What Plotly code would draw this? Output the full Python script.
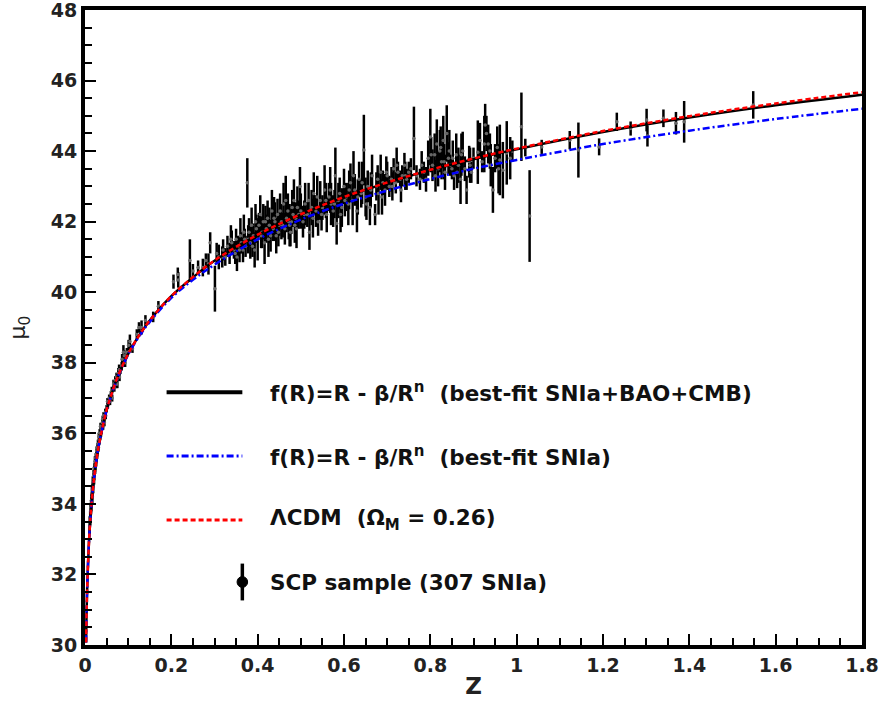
import plotly.graph_objects as go

# ---------------- data ----------------
# model curves
curve_z = [0.0025, 0.005, 0.01, 0.015, 0.02, 0.03, 0.04, 0.05, 0.06, 0.075, 0.1, 0.125,
           0.15, 0.2, 0.25, 0.3, 0.4, 0.5, 0.6, 0.7, 0.8, 0.9, 1.0, 1.2, 1.4, 1.6, 1.8]
lcdm_mu = [30.07, 31.58, 33.10, 33.98, 34.62, 35.52, 36.14, 36.66, 37.05, 37.58, 38.25, 38.77,
           39.20, 39.89, 40.43, 40.90, 41.63, 42.21, 42.70, 43.11, 43.47, 43.79, 44.07, 44.57,
           44.99, 45.35, 45.67]
fr_joint_mu = [30.07, 31.58, 33.10, 33.98, 34.62, 35.52, 36.14, 36.66, 37.05, 37.58, 38.25, 38.77,
               39.20, 39.89, 40.42, 40.89, 41.62, 42.20, 42.69, 43.10, 43.46, 43.77, 44.05, 44.54,
               44.95, 45.30, 45.60]
fr_snia_mu = [30.07, 31.58, 33.10, 33.98, 34.62, 35.52, 36.13, 36.65, 37.04, 37.56, 38.23, 38.74,
              39.16, 39.84, 40.35, 40.78, 41.50, 42.06, 42.51, 42.88, 43.21, 43.50, 43.75, 44.20,
              44.58, 44.91, 45.20]

# SCP SNIa sample
sn_z = [0.011, 0.013, 0.014, 0.015, 0.016, 0.017, 0.018, 0.019, 0.020, 0.021, 0.022, 0.023,
        0.024, 0.025, 0.026, 0.027, 0.028, 0.029, 0.030, 0.031, 0.032, 0.033, 0.034, 0.035,
        0.036, 0.038, 0.040, 0.042, 0.043, 0.045, 0.047, 0.050, 0.053, 0.056, 0.060, 0.063,
        0.066, 0.070, 0.073, 0.075, 0.077, 0.080, 0.082, 0.086, 0.089, 0.093, 0.097, 0.101,
        0.104, 0.110, 0.120, 0.125, 0.131, 0.140, 0.158, 0.170,
        0.205, 0.216, 0.215, 0.243, 0.250, 0.262, 0.273, 0.280, 0.286, 0.290, 0.301, 0.305, 0.310,
        0.320, 0.325, 0.330, 0.335, 0.340, 0.345, 0.350, 0.352, 0.355, 0.360, 0.362, 0.366,
        0.370, 0.372, 0.376, 0.380, 0.383, 0.386, 0.390, 0.393, 0.397, 0.400, 0.403, 0.406,
        0.410, 0.413, 0.416, 0.420, 0.423, 0.427, 0.430, 0.433, 0.436, 0.440, 0.443, 0.446,
        0.450, 0.455, 0.460, 0.463, 0.467, 0.470, 0.474, 0.478, 0.480, 0.484, 0.488, 0.490,
        0.495, 0.498, 0.500,
        0.505, 0.510, 0.515, 0.520, 0.525, 0.530, 0.535, 0.540, 0.545, 0.550, 0.555, 0.560,
        0.565, 0.570, 0.575, 0.580, 0.583, 0.587, 0.590, 0.595, 0.600, 0.605, 0.610, 0.615,
        0.620, 0.625, 0.630, 0.635, 0.640, 0.646, 0.650, 0.655, 0.660, 0.665, 0.672, 0.675,
        0.680, 0.685, 0.690, 0.695, 0.700, 0.705, 0.710, 0.715, 0.720, 0.725, 0.730, 0.735,
        0.740, 0.745, 0.750,
        0.755, 0.762, 0.768, 0.776, 0.780, 0.785, 0.790, 0.795, 0.800, 0.805, 0.810, 0.815,
        0.818, 0.822, 0.826, 0.830, 0.834, 0.838, 0.842, 0.846, 0.850, 0.855, 0.860, 0.865,
        0.870, 0.875, 0.880, 0.884, 0.890, 0.895, 0.900, 0.910, 0.915, 0.920, 0.927, 0.930,
        0.934, 0.940, 0.945, 0.950, 0.955, 0.961, 0.968, 0.977, 0.985, 0.990, 1.011, 1.020,
        1.030,
        1.058, 1.123, 1.143, 1.191, 1.232, 1.264, 1.301, 1.303, 1.340, 1.369, 1.388, 1.548,
        0.318, 0.338, 0.348, 0.358, 0.368, 0.378, 0.388, 0.395, 0.408, 0.418, 0.425, 0.438,
        0.448, 0.452, 0.458, 0.465, 0.472, 0.476, 0.482, 0.486, 0.492, 0.508, 0.518, 0.528,
        0.538, 0.548, 0.558, 0.568, 0.578, 0.592, 0.602, 0.612, 0.622, 0.632, 0.642, 0.652,
        0.662, 0.678, 0.688, 0.698, 0.712, 0.722, 0.732, 0.742, 0.802, 0.812, 0.824, 0.832,
        0.844, 0.852, 0.862, 0.872, 0.892, 0.925, 0.938, 0.958,
        0.012, 0.0145, 0.0175, 0.0205, 0.0235, 0.0265, 0.0295, 0.037, 0.041, 0.044, 0.048,
        0.052, 0.058, 0.062, 0.068, 0.072, 0.079, 0.085, 0.091]
sn_mu = [33.4, 33.8, 33.9, 34.1, 34.3, 34.2, 34.6, 34.5, 34.8, 34.7, 35.0, 35.2,
         35.1, 35.3, 35.2, 35.5, 35.4, 35.6, 35.7, 35.6, 35.9, 35.8, 36.0, 35.9,
         36.2, 36.1, 36.3, 36.2, 36.5, 36.3, 36.6, 36.7, 36.8, 37.0, 37.1, 37.0,
         37.4, 37.5, 37.6, 37.4, 37.7, 37.6, 37.8, 38.1, 38.3, 38.0, 38.3, 38.5,
         38.6, 38.4, 38.8, 39.0, 39.0, 39.2, 39.3, 39.6,
         40.3, 40.35, 40.5, 40.9, 40.6, 40.7, 40.7, 40.9, 40.8, 41.4, 40.1, 41.1, 41.0,
         41.2, 41.0, 41.3, 41.1, 41.4, 41.2, 41.5, 41.0, 41.3, 41.6, 41.4, 41.2,
         41.5, 41.3, 43.1, 41.7, 41.4, 41.9, 41.6, 41.2, 41.8, 41.5, 41.9, 42.2,
         41.7, 42.0, 41.4, 41.8, 42.1, 41.9, 41.6, 42.3, 41.8, 42.0, 41.6, 42.2,
         41.9, 42.0, 42.5, 41.8, 42.1, 42.3, 41.9, 42.0, 42.4, 42.6, 42.1, 41.8,
         42.2, 43.0, 42.3,
         42.0, 42.5, 42.2, 41.7, 42.4, 42.8, 42.3, 42.0, 42.6, 42.4, 42.9, 42.2,
         42.7, 42.5, 42.3, 43.3, 41.95, 42.6, 42.8, 42.4, 43.0, 42.7, 42.5, 43.1,
         42.6, 42.9, 42.3, 43.2, 42.8, 44.03, 42.7, 43.0, 42.4, 43.3, 42.2, 43.0,
         42.8, 43.4, 43.1, 42.9, 43.3, 43.0, 43.2, 43.5, 43.1, 43.4, 43.2, 43.3,
         43.6, 43.2, 43.4,
         43.5, 44.36, 43.3, 43.2, 43.6, 43.4, 43.2, 43.8, 44.4, 43.6, 43.9, 44.2,
         43.5, 44.0, 43.7, 44.3, 43.4, 44.5, 43.8, 43.6, 43.5, 43.3, 43.9, 43.6,
         43.2, 44.0, 43.5, 42.9, 43.7, 43.4, 43.8, 43.97, 44.3, 43.7, 44.74, 44.5,
         44.2, 43.6, 42.9, 43.8, 44.1, 43.75, 43.46, 43.95, 43.8, 44.0, 44.69, 44.1,
         42.16,
         44.12, 44.31, 44.03, 44.12, 44.83, 44.64, 44.88, 44.43, 44.93, 44.79, 44.83, 45.31,
         41.0, 41.5, 41.1, 41.2, 41.7, 41.5, 41.3, 42.0, 41.6, 42.0, 41.5, 42.1,
         41.7, 42.3, 41.9, 42.6, 42.0, 41.7, 42.2, 41.9, 42.4, 42.2, 42.6, 42.1,
         42.7, 42.2, 42.6, 42.9, 42.5, 42.2, 42.6, 42.9, 43.3, 42.7, 43.1, 42.5,
         42.9, 43.2, 42.7, 43.4, 43.0, 43.6, 42.9, 43.3, 43.9, 43.3, 44.1, 43.7,
         44.0, 43.8, 43.4, 43.9, 43.6, 44.2, 44.0, 43.5,
         33.6, 34.0, 34.4, 34.9, 35.0, 35.4, 35.5, 36.0, 36.4, 36.4, 36.5,
         36.9, 36.9, 37.2, 37.3, 37.4, 37.8, 37.9, 38.2]
sn_err = [0.25, 0.2, 0.2, 0.2, 0.18, 0.2, 0.18, 0.2, 0.15, 0.15, 0.15, 0.15,
          0.14, 0.14, 0.14, 0.13, 0.13, 0.12, 0.12, 0.12, 0.12, 0.12, 0.12, 0.1,
          0.1, 0.1, 0.1, 0.1, 0.1, 0.1, 0.1, 0.1, 0.1, 0.1, 0.1, 0.1,
          0.12, 0.12, 0.12, 0.12, 0.15, 0.12, 0.12, 0.15, 0.2, 0.12, 0.12, 0.15,
          0.2, 0.12, 0.15, 0.15, 0.2, 0.15, 0.15, 0.15,
          0.2, 0.22, 0.2, 0.6, 0.2, 0.2, 0.25, 0.2, 0.3, 0.3, 0.65, 0.3, 0.35,
          0.3, 0.25, 0.3, 0.3, 0.35, 0.25, 0.3, 0.4, 0.3, 0.5, 0.3, 0.35,
          0.3, 0.3, 0.7, 0.4, 0.45, 0.5, 0.35, 0.5, 0.4, 0.6, 0.35, 0.55,
          0.45, 0.5, 0.6, 0.4, 0.5, 0.5, 0.45, 0.6, 0.35, 0.55, 0.5, 0.45,
          0.3, 0.5, 0.6, 0.45, 0.4, 0.5, 0.6, 0.35, 0.5, 0.6, 0.45, 0.55,
          0.4, 0.55, 0.5,
          0.45, 0.6, 0.35, 0.5, 0.5, 0.6, 0.45, 0.4, 0.55, 0.35, 0.7, 0.5,
          0.4, 0.6, 0.45, 0.8, 0.6, 0.5, 0.45, 0.55, 0.5, 0.4, 0.6, 0.55,
          0.7, 0.45, 0.6, 0.5, 0.4, 1.0, 0.55, 0.45, 0.5, 0.6, 0.3, 0.4,
          0.6, 0.5, 0.35, 0.45, 0.4, 0.3, 0.35, 0.3, 0.3, 0.3, 0.25, 0.3,
          0.35, 0.3, 0.3,
          0.3, 0.9, 0.3, 0.3, 0.4, 0.3, 0.35, 0.5, 0.8, 0.45, 0.6, 0.7,
          0.5, 0.6, 0.5, 0.7, 0.5, 0.8, 0.45, 0.3, 0.3, 0.4, 0.6, 0.5,
          0.7, 0.55, 0.35, 0.4, 0.45, 0.3, 0.3, 0.9, 0.5, 0.3, 0.6, 0.5,
          0.55, 0.6, 0.65, 0.4, 0.6, 1.0, 0.8, 0.9, 0.6, 0.3, 0.97, 0.25,
          1.3,
          0.2, 0.26, 0.78, 0.24, 0.26, 0.2, 0.32, 0.3, 0.25, 0.32, 0.59, 0.39,
          0.3, 0.4, 0.3, 0.35, 0.5, 0.4, 0.3, 0.5, 0.35, 0.45, 0.5, 0.6,
          0.4, 0.5, 0.35, 0.7, 0.5, 0.4, 0.35, 0.5, 0.6, 0.4, 0.5, 0.55,
          0.6, 0.45, 0.5, 0.65, 0.4, 0.5, 0.45, 0.55, 0.7, 0.5, 0.6, 0.45,
          0.5, 0.4, 0.5, 0.45, 0.4, 0.5, 0.35, 0.4, 0.5, 0.45, 0.6, 0.5,
          0.6, 0.5, 0.45, 0.6, 0.5, 0.8, 0.5, 0.7,
          0.2, 0.2, 0.2, 0.15, 0.15, 0.14, 0.12, 0.1, 0.1, 0.1, 0.1,
          0.1, 0.1, 0.12, 0.12, 0.12, 0.15, 0.12, 0.15]

x_ticks = [0, 0.2, 0.4, 0.6, 0.8, 1.0, 1.2, 1.4, 1.6, 1.8]
x_tick_labels = ["0", "0.2", "0.4", "0.6", "0.8", "1", "1.2", "1.4", "1.6", "1.8"]
y_ticks = [30, 32, 34, 36, 38, 40, 42, 44, 46, 48]

legend_labels = [
    "f(R)=R - β/R<sup>n</sup>&nbsp;&nbsp;(best-fit SNIa+BAO+CMB)",
    "f(R)=R - β/R<sup>n</sup>&nbsp;&nbsp;(best-fit SNIa)",
    "ΛCDM&nbsp;&nbsp;(Ω<sub>M</sub> = 0.26)",
    "SCP sample (307 SNIa)",
]

FONT = "DejaVu Sans, Liberation Sans, Arial"

# ---------------- figure ----------------
fig = go.Figure()

fig.add_trace(go.Scatter(
    x=sn_z, y=sn_mu, mode="markers",
    marker=dict(size=3.5, color="#666666"),
    error_y=dict(type="data", array=sn_err, visible=True, color="black",
                 thickness=2.5, width=0),
    showlegend=False, hoverinfo="skip"))

fig.add_trace(go.Scatter(x=curve_z, y=fr_joint_mu, mode="lines",
                         line=dict(color="black", width=2.5, shape="spline"),
                         showlegend=False))
fig.add_trace(go.Scatter(x=curve_z, y=fr_snia_mu, mode="lines",
                         line=dict(color="blue", width=2.5, dash="7px,3px,2px,3px",
                                   shape="spline"),
                         showlegend=False))
fig.add_trace(go.Scatter(x=curve_z, y=lcdm_mu, mode="lines",
                         line=dict(color="red", width=2.5, dash="5px,3px", shape="spline"),
                         showlegend=False))

# manual legend
row_y = [0.398, 0.2976, 0.1969, 0.0992]
x0, x1, xt = 0.105, 0.2025, 0.235
fig.add_shape(type="line", xref="paper", yref="paper", x0=x0, x1=x1, y0=row_y[0], y1=row_y[0],
              line=dict(color="black", width=4))
fig.add_shape(type="line", xref="paper", yref="paper", x0=x0, x1=x1, y0=row_y[1], y1=row_y[1],
              line=dict(color="blue", width=3, dash="7px,3px,2px,3px"))
fig.add_shape(type="line", xref="paper", yref="paper", x0=x0, x1=x1, y0=row_y[2], y1=row_y[2],
              line=dict(color="red", width=3, dash="5px,3px"))
fig.add_shape(type="line", xref="paper", yref="paper", x0=x1, x1=x1,
              y0=row_y[3] - 0.029, y1=row_y[3] + 0.029, line=dict(color="black", width=3.5))
fig.add_shape(type="circle", xref="paper", yref="paper",
              x0=x1 - 0.0068, x1=x1 + 0.0068, y0=row_y[3] - 0.0085, y1=row_y[3] + 0.0085,
              fillcolor="black", line=dict(color="black", width=1))
for lab, yy in zip(legend_labels, row_y):
    fig.add_annotation(xref="paper", yref="paper", x=xt, y=yy, text="<b>" + lab + "</b>",
                       showarrow=False, xanchor="left", yanchor="middle",
                       font=dict(family=FONT, size=21.5, color="#111"))

axis_common = dict(
    showline=True, linecolor="black", linewidth=4, mirror=True,
    ticks="inside", tickcolor="black", tickwidth=2, ticklen=11,
    showgrid=False, zeroline=False, automargin=False, ticklabeloverflow="allow",
    tickfont=dict(family=FONT, size=19, color="#222", weight="bold"),
)
fig.update_xaxes(range=[0, 1.8], tickvals=x_ticks, ticktext=x_tick_labels,
                 minor=dict(ticks="inside", dtick=0.05, ticklen=7, tickwidth=1.5,
                            tickcolor="black"),
                 title=dict(text="<b>Z</b>", font=dict(family=FONT, size=23, color="#222"),
                            standoff=4),
                 **axis_common)
fig.update_yaxes(range=[30, 48], tickvals=y_ticks,
                 minor=dict(ticks="inside", dtick=0.5, ticklen=7, tickwidth=1.5,
                            tickcolor="black"),
                 title=dict(text="μ<sub>0</sub>", font=dict(family=FONT, size=22, color="#222"),
                            standoff=20),
                 **axis_common)

fig.update_layout(width=881, height=704, plot_bgcolor="white", paper_bgcolor="white",
                  margin=dict(l=85, r=19, t=10, b=59), showlegend=False)

fig.write_html("out.html", config={"displayModeBar": False},
               post_script="document.body.style.margin='0';")
